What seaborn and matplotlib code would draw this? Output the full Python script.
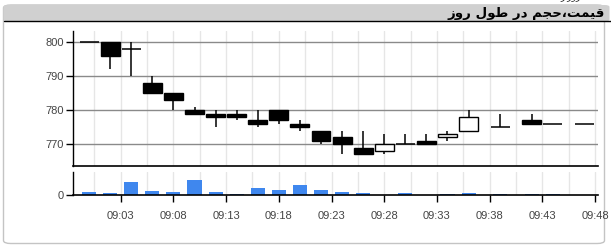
import numpy as np
import pandas as pd
import seaborn as sns
import matplotlib
matplotlib.use("Agg")
import matplotlib.pyplot as plt
from matplotlib.patches import FancyBboxPatch

# ---- data ----
times = ["09:00", "09:02", "09:04", "09:06", "09:08", "09:10", "09:12", "09:14",
         "09:16", "09:18", "09:20", "09:22", "09:24", "09:26", "09:28", "09:30",
         "09:32", "09:34", "09:36", "09:39", "09:42", "09:44", "09:47"]
open_ = [800, 800, 798, 788, 785, 780, 779, 779, 777, 780, 776, 774, 772, 769,
         768, 770, 771, 772, 774, 775, 777, 776, 776]
high = [800, 800, 800, 790, 785, 781, 780, 780, 780, 780, 777, 774, 774, 774,
        773, 773, 773, 774, 780, 779, 779, 776, 776]
low = [800, 792, 790, 785, 780, 779, 775, 777, 775, 776, 774, 770, 767, 767,
       767, 770, 770, 771, 774, 775, 776, 776, 776]
close = [800, 796, 798, 785, 783, 779, 778, 778, 776, 777, 775, 771, 770, 767,
         770, 770, 770, 773, 778, 775, 776, 776, 776]
volume = [2300, 1300, 12300, 3300, 2300, 14300, 2300, 700, 6300, 4300, 9300,
          4300, 2300, 1300, 0, 1300, 0, 700, 1300, 700, 700, 700, 0]
price_ticks = [770, 780, 790, 800]
time_ticks = ["09:03", "09:08", "09:13", "09:18", "09:23", "09:28", "09:33",
              "09:38", "09:43", "09:48"]
# title (Persian, pre-shaped in visual order)
title_text = "\uFEAF\uFEED\uFEAD \uFEDD\uFEEE\uFEC3 \uFEAD\uFEA9 \uFEE2\uFEA0\uFEA3\u060C\uFE96\uFEE4\uFEF4\uFED7"
top_fragment = "\uFEAD \uFEAF\uFEED\uFEAD"


def to_min(s):
    h, m = s.split(":")
    return int(h) * 60 + int(m) - 540


df = pd.DataFrame({"t": [to_min(s) for s in times], "open": open_, "high": high,
                   "low": low, "close": close, "volume": volume})

sns.set_theme(style="white")
plt.rcParams["font.family"] = ["Liberation Sans", "DejaVu Sans"]

W, H = 611, 247
fig = plt.figure(figsize=(W / 100, H / 100), dpi=100)
fig.patch.set_facecolor("white")


def fx(px):
    return px / W


def fy(py):
    return 1 - py / H


# container frame (drawn beneath the axes)
frame = FancyBboxPatch((fx(3.5), fy(243.5)), fx(601), fy(5) - fy(243.5),
                       boxstyle="round,pad=0,rounding_size=0.012",
                       transform=fig.transFigure, facecolor="white",
                       edgecolor="#c4c4c4", linewidth=1.0, zorder=-10)
fig.patches.append(frame)
bar = FancyBboxPatch((fx(3.5), fy(21.5)), fx(606), fy(5) - fy(21.5),
                     boxstyle="round,pad=0,rounding_size=0.008",
                     transform=fig.transFigure, facecolor="#d0d0d0",
                     edgecolor="none", zorder=-9)
fig.patches.append(bar)
fig.add_artist(plt.Line2D([fx(3.5), fx(611)], [fy(21.5), fy(21.5)],
                          transform=fig.transFigure, color="black", lw=1.0, zorder=-8))
fig.text(fx(605), fy(13.5), title_text, ha="right", va="center", fontsize=9.6,
         fontweight="bold", family=["DejaVu Sans"], color="black", zorder=3)
fig.text(fx(581), fy(-2.5), top_fragment, ha="right", va="center", fontsize=6.5,
         family=["DejaVu Sans"], color="#222222", zorder=3)

L, R = fx(73.3), fx(597.7)
axp = fig.add_axes([L, fy(166), R - L, fy(31) - fy(166)])
axv = fig.add_axes([L, fy(194.5), R - L, fy(172) - fy(194.5)])

xmin, xmax = -1.5, 48.25
grid_x = np.arange(0.5, 48.1, 2.5)
major_x = [to_min(s) for s in time_ticks]

# ---- volume (seaborn) ----
sns.barplot(data=df, x="t", y="volume", native_scale=True, width=0.667,
            color="#3f87ee", saturation=1, errorbar=None, linewidth=0, ax=axv,
            zorder=2)

for ax in (axp, axv):
    ax.set_facecolor("none")
    for g in grid_x:
        ax.axvline(g, color="#e6e6e6", lw=1.0, zorder=0)
    ax.set_xlim(xmin, xmax)
    ax.spines["top"].set_visible(False)
    ax.spines["right"].set_visible(False)
    ax.spines["left"].set_color("black")
    ax.spines["bottom"].set_color("black")
    ax.spines["left"].set_linewidth(1.0)
    ax.spines["bottom"].set_linewidth(1.2)

# ---- price candles ----
bw = 1.8
for _, r in df.iterrows():
    axp.vlines(r.t, r.low, r.high, color="black", lw=1.1, zorder=2)
    if r.open == r.close:
        axp.hlines(r.open, r.t - bw / 2, r.t + bw / 2, color="black", lw=1.1, zorder=3)
    else:
        face = "black" if r.close < r.open else "white"
        axp.bar(r.t, abs(r.close - r.open), bottom=min(r.open, r.close), width=bw,
                color=face, edgecolor="black", linewidth=1.0, zorder=3)

axp.set_xlim(xmin, xmax)
axp.set_ylim(763.6, 803.3)
axp.set_yticks(price_ticks)
axp.set_yticklabels([str(v) for v in price_ticks])
for v in price_ticks:
    axp.axhline(v, color="#8a8a8a", lw=1.0, zorder=1)
axp.set_xticks([])
axp.tick_params(axis="y", left=True, length=5, width=1, color="black",
                labelsize=8, labelcolor="#444444", pad=2)

axv.set_xlim(xmin, xmax)
axv.set_ylim(0, 22500)
axv.set_yticks([0])
axv.set_yticklabels(["0"])
axv.set_xticks(major_x)
axv.set_xticklabels(time_ticks)
axv.set_xlabel("")
axv.set_ylabel("")
axv.tick_params(axis="y", left=True, length=5, width=1, color="black",
                labelsize=8, labelcolor="#444444", pad=2)
axv.tick_params(axis="x", bottom=True, length=5, width=1, color="black",
                labelsize=8, labelcolor="#444444", pad=7)

fig.savefig("out.png", dpi=100)
